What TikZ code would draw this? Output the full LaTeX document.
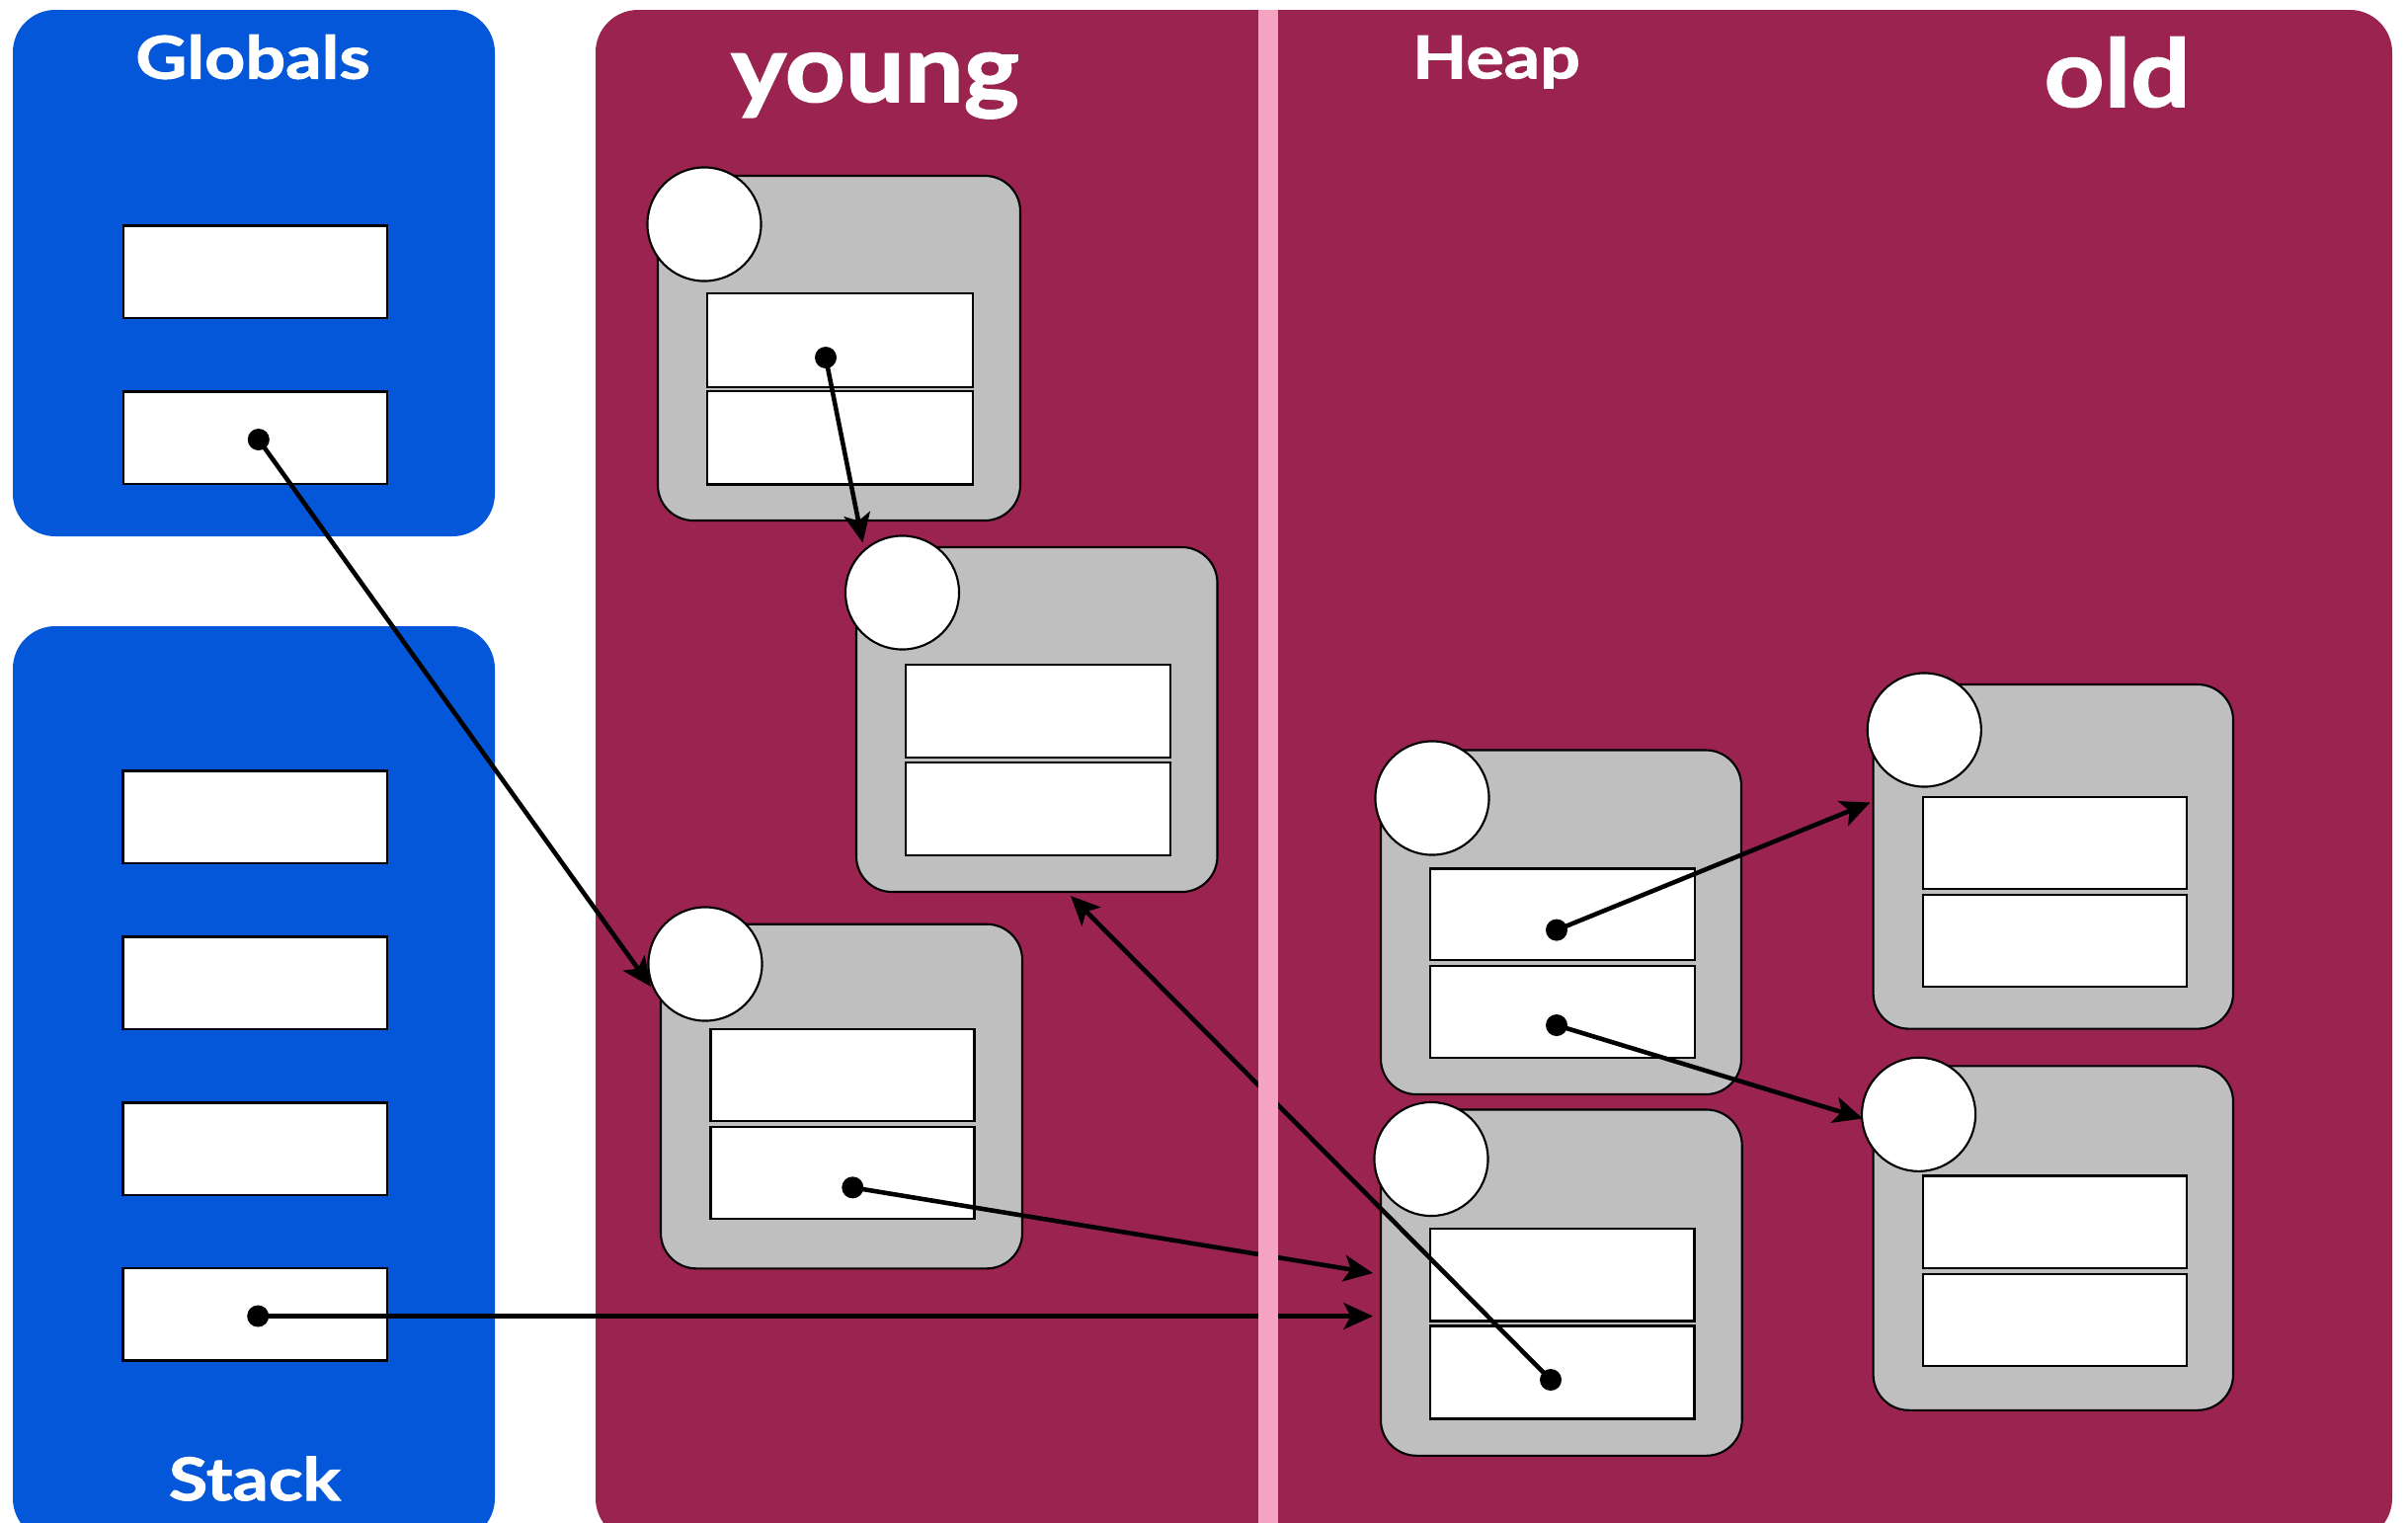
\documentclass[tikz,border=0pt]{standalone}
\usepackage{fontspec}
\setmainfont{Lato}
\newfontfamily\titlesmallfont{Lato}[FakeStretch=1.2, BoldFeatures={FakeBold=1.6}]
\newfontfamily\titlebigfont{Lato}[FakeStretch=1.12, BoldFeatures={FakeBold=1.6}]
\usetikzlibrary{arrows.meta,fit}
\definecolor{stackblue}{RGB}{3,87,216}
\definecolor{heapred}{RGB}{154,35,80}
\definecolor{divpink}{RGB}{244,164,192}
\definecolor{objgray}{RGB}{191,191,191}
\tikzset{
  region/.style={draw=none, rounded corners=0.43cm},
  objbox/.style={draw=black, fill=objgray, line width=0.6pt, rounded corners=0.36cm, inner sep=0pt},
  slotbox/.style={draw=black, fill=white, line width=0.65pt, inner sep=0pt},
  hdrcircle/.style={circle, draw=black, fill=white, line width=0.6pt, inner sep=0pt, minimum size=1.15cm},
  ptrdot/.style={circle, fill=black, inner sep=0pt, minimum size=0.22cm},
  ptr/.style={line width=1.3pt, -{Stealth[length=8.4pt, width=7.6pt, inset=2pt]}},
  smalltitle/.style={text=white, font=\titlesmallfont\bfseries\fontsize{17}{20}\selectfont, anchor=base, inner sep=0pt},
  bigtitle/.style={text=white, font=\titlebigfont\bfseries\fontsize{27}{30}\selectfont, anchor=base, inner sep=0pt},
}
\begin{document}
\begin{tikzpicture}[x=0.01cm, y=-0.01cm]
\useasboundingbox (0,0) rectangle (2438,1541);
\clip (0,0) rectangle (2438,1541);
% regions
\fill[stackblue, region] (13,10) rectangle (501,543);
\fill[stackblue, region] (13,634) rectangle (501,1560);
\fill[heapred, region] (603,10) rectangle (2422,1560);
% titles
\node[smalltitle] (tglobals) at (256,79.6) {Globals};
\node[smalltitle] (tstack) at (257.8,1519) {Stack};
\node[smalltitle] (theap) at (1515,79.3) {Heap};
\node[bigtitle] (tyoung) at (886,103) {young};
\node[bigtitle] (told) at (2143.5,108) {old};
% globals slots
\node[slotbox, fit={(124.8,228.5) (392.3,322.2)}] (g1) {};
\node[slotbox, fit={(124.8,396.5) (392.3,489.9)}] (g2) {};
\node[ptrdot] (gdot) at (261.8,445) {};
% stack slots
\node[slotbox, fit={(124.5,780.5) (392,873.8)}] (s1) {};
\node[slotbox, fit={(124.5,948.4) (392,1041.7)}] (s2) {};
\node[slotbox, fit={(124.5,1116.4) (392,1209.7)}] (s3) {};
\node[slotbox, fit={(124.5,1284.3) (392,1377.6)}] (s4) {};
\node[ptrdot] (sdot) at (261.2,1332.5) {};
% object A
\node[objbox, fit={(666,178) (1033,527)}] (A) {};
\node[hdrcircle] (Ac) at (713,227) {};
\node[slotbox, fit={(716,297) (985,392)}] (A1) {};
\node[slotbox, fit={(716,396) (985,490.5)}] (A2) {};
\node[ptrdot] (Adot) at (836,362) {};
% object B
\node[objbox, fit={(867,554) (1232.5,903)}] (B) {};
\node[hdrcircle] (Bc) at (913.5,600) {};
\node[slotbox, fit={(917,673) (1185,767)}] (B1) {};
\node[slotbox, fit={(917,772) (1185,866)}] (B2) {};
% object C
\node[objbox, fit={(669,935.7) (1035,1284.3)}] (C) {};
\node[hdrcircle] (Cc) at (714,976) {};
\node[slotbox, fit={(719.5,1041.7) (986.5,1135.3)}] (C1) {};
\node[slotbox, fit={(719.5,1140.7) (986.5,1234)}] (C2) {};
\node[ptrdot] (Cdot) at (863.3,1202.3) {};
% object D
\node[objbox, fit={(1398,759.5) (1763,1108)}] (D) {};
\node[hdrcircle] (Dc) at (1450,808) {};
\node[slotbox, fit={(1448,879.4) (1716,972.2)}] (D1) {};
\node[slotbox, fit={(1448,978) (1716,1070.7)}] (D2) {};
\node[ptrdot] (Ddot1) at (1576,941.6) {};
\node[ptrdot] (Ddot2) at (1576,1038) {};
% object E
\node[objbox, fit={(1398,1123.5) (1763.7,1473.8)}] (E) {};
\node[hdrcircle] (Ec) at (1449,1173.5) {};
\node[slotbox, fit={(1448,1244.3) (1715.5,1337.5)}] (E1) {};
\node[slotbox, fit={(1448,1342.6) (1715.5,1436.5)}] (E2) {};
\node[ptrdot] (Edot) at (1570,1397) {};
% object F
\node[objbox, fit={(1896.6,693) (2261,1041.6)}] (F) {};
\node[hdrcircle] (Fc) at (1948.3,739) {};
\node[slotbox, fit={(1947,807) (2214,900)}] (F1) {};
\node[slotbox, fit={(1947,906) (2214,999)}] (F2) {};
% object G
\node[objbox, fit={(1896.6,1079.4) (2261,1427.8)}] (G) {};
\node[hdrcircle] (Gc) at (1942.6,1128.3) {};
\node[slotbox, fit={(1947,1190.6) (2214,1284)}] (G1) {};
\node[slotbox, fit={(1947,1290) (2214,1383)}] (G2) {};
% arrow tips
\coordinate (t1) at (659,999);
\coordinate (t2) at (873.5,549.5);
\coordinate (t3) at (1390,1289);
\coordinate (t4) at (1390,1332.5);
\coordinate (t5) at (1084,907);
\coordinate (t6) at (1893.5,812.5);
\coordinate (t7) at (1886,1132.5);
% pointers
\draw[ptr] (gdot.center) -- (t1);
\draw[ptr] (Adot.center) -- (t2);
\draw[ptr] (Cdot.center) -- (t3);
\draw[ptr] (sdot.center) -- (t4);
\draw[ptr] (Edot.center) -- (t5);
\draw[ptr] (Ddot1.center) -- (t6);
\draw[ptr] (Ddot2.center) -- (t7);
% divider between young and old
\fill[divpink] (1273.5,10) rectangle (1294,1560);
\end{tikzpicture}
\end{document}
